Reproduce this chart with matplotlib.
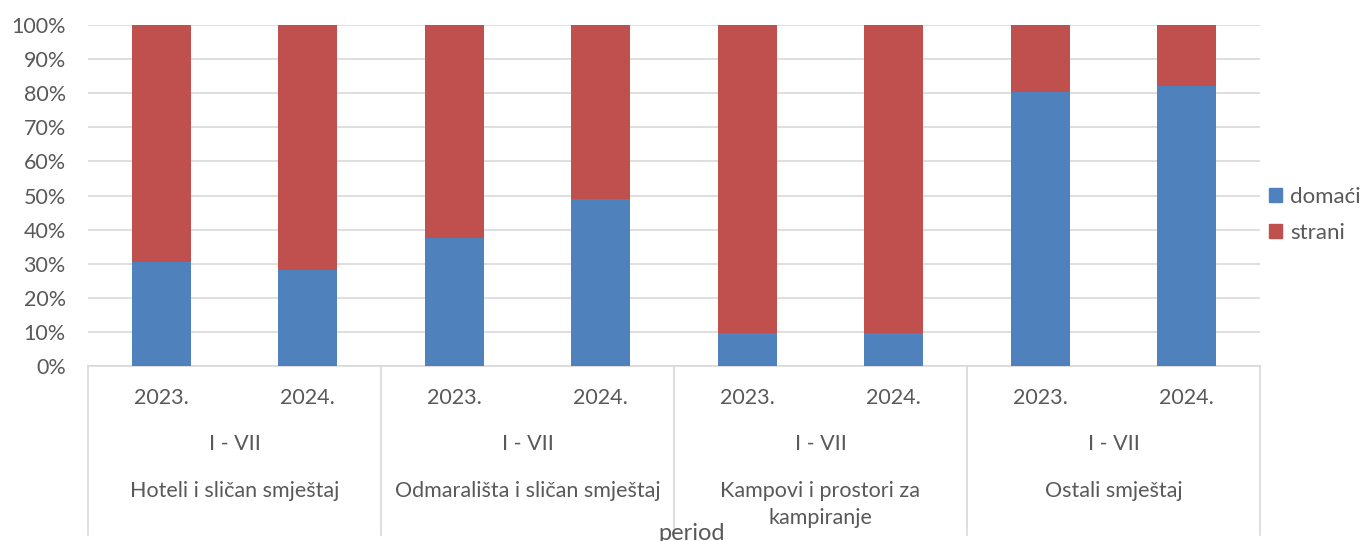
import matplotlib.pyplot as plt
import numpy as np
from matplotlib.patches import Patch
from matplotlib.ticker import PercentFormatter

# data
years = ['2023.', '2024.'] * 4
period = 'I - VII'
groups = ['Hoteli i sličan smještaj', 'Odmarališta i sličan smještaj',
          'Kampovi i prostori za\nkampiranje', 'Ostali smještaj']
domaci = [30.5, 28.2, 37.5, 49.0, 9.7, 9.6, 80.3, 82.0]
strani = [100 - d for d in domaci]

BLUE = '#4f81bd'
RED = '#c0504d'
TXT = '#595959'
GRID = '#d9d9d9'

plt.rcParams['font.family'] = ['Lato', 'DejaVu Sans']

W, H = 1363, 541
fig = plt.figure(figsize=(W / 100, H / 100), dpi=100)
x0, x1, ytop, ybot = 88, 1260, 25, 366
ax = fig.add_axes([x0 / W, 1 - ybot / H, (x1 - x0) / W, (ybot - ytop) / H])

x = np.arange(len(domaci))
ax.bar(x, domaci, width=0.4, color=BLUE, zorder=3)
ax.bar(x, strani, width=0.4, bottom=domaci, color=RED, zorder=3)

ax.set_xlim(-0.5, len(x) - 0.5)
ax.set_ylim(0, 100)
ax.set_yticks(np.arange(0, 101, 10))
ax.yaxis.set_major_formatter(PercentFormatter(decimals=0))
ax.tick_params(axis='y', length=0, labelsize=15.5, labelcolor=TXT, pad=16)
ax.set_xticks([])
ax.grid(axis='y', color=GRID, linewidth=1.2, zorder=0)
for s in ['top', 'right', 'left']:
    ax.spines[s].set_visible(False)
ax.spines['bottom'].set_color(GRID)
ax.spines['bottom'].set_linewidth(1.2)

# multi-level category axis
tr = ax.get_xaxis_transform()
def fy(py):
    return (ybot - py) / (ybot - ytop)

for i, y in enumerate(years):
    ax.text(i, fy(398), y, transform=tr, ha='center', va='center',
            fontsize=15.5, color=TXT)
for g, name in enumerate(groups):
    cx = 2 * g + 0.5
    ax.text(cx, fy(444), period, transform=tr, ha='center', va='center',
            fontsize=15.5, color=TXT)
    ax.text(cx, fy(481), name, transform=tr, ha='center', va='top',
            fontsize=15.5, color=TXT, linespacing=1.45)
for b in np.arange(-0.5, len(x), 2):
    ax.plot([b, b], [0, fy(535)], transform=tr, color=GRID, lw=1.2,
            clip_on=False)

fig.text(692 / W, 1 - 533 / H, 'period', ha='center', va='center',
         fontsize=17, color=TXT)

handles = [Patch(color=BLUE, label='domaći'), Patch(color=RED, label='strani')]
fig.legend(handles=handles, loc='center left', bbox_to_anchor=(1269 / W, 1 - 215 / H),
           frameon=False, fontsize=16, labelcolor=TXT, handlelength=0.6,
           handleheight=0.6, handletextpad=0.35, labelspacing=0.7,
           borderpad=0, borderaxespad=0)

fig.savefig('out.png', dpi=100)
